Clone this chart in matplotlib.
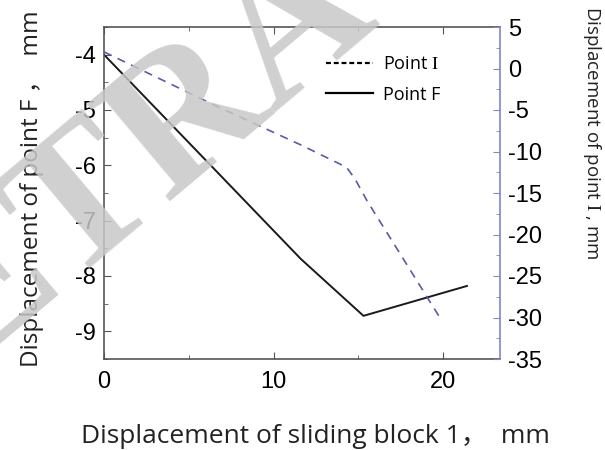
import matplotlib
matplotlib.use('Agg')
import matplotlib.pyplot as plt
from matplotlib.lines import Line2D
from matplotlib.ticker import MultipleLocator

plt.rcParams['axes.unicode_minus'] = False
plt.rcParams['mathtext.fontset'] = 'stix'

# data
slide_F = [0, 6.7, 11.6, 15.3, 21.4]
disp_F = [-4.0, -6.13, -7.69, -8.72, -8.18]

slide_I = [0, 6.7, 11.6, 14.3, 14.8, 15.5, 19.8]
disp_I = [2.0, -4.6, -9.2, -11.9, -13.3, -15.9, -30.0]

xlabel = 'Displacement of sliding block 1，  mm'
ylabel_F = 'Displacement of point F ，  mm'
ylabel_I = r'Displacement of point $\mathrm{I}$ , mm'
legend_labels = [r'Point $\mathrm{I}$', 'Point F']

label_font = ['Open Sans', 'Noto Sans CJK SC', 'DejaVu Sans']
tick_font = 'Liberation Sans'
axis_col = '#555555'
blue = '#5a5aa8'
blue_axis = '#8484c8'

fig = plt.figure(figsize=(6.05, 4.5), dpi=100)
ax1 = fig.add_axes([104/605, 1-359/450, 396/605, 332/450])
ax2 = ax1.twinx()

ax1.plot(slide_F, disp_F, '-', color='#1a1a1a', lw=1.4)
ax2.plot(slide_I, disp_I, color=blue, lw=1.2, dashes=(5, 4))

ax1.set_xlim(0, 23.35)
ax1.set_ylim(-9.5, -3.5)
ax2.set_ylim(-35, 5)

ax1.xaxis.set_major_locator(MultipleLocator(10))
ax1.xaxis.set_minor_locator(MultipleLocator(5))
ax1.yaxis.set_major_locator(MultipleLocator(1))
ax1.yaxis.set_minor_locator(MultipleLocator(0.5))
ax2.yaxis.set_major_locator(MultipleLocator(5))
ax2.yaxis.set_minor_locator(MultipleLocator(2.5))

ax1.tick_params(which='both', direction='in', top=True, right=False, color=axis_col)
ax1.tick_params(which='major', length=5, labelsize=17, pad=6)
ax1.tick_params(which='minor', length=3)
ax1.tick_params(axis='x', which='major', pad=9)
ax2.tick_params(which='both', direction='in', color=blue_axis)
ax2.tick_params(which='major', length=5, labelsize=17, pad=6)
ax2.tick_params(which='minor', length=3)

for ax in (ax1, ax2):
    for lab in ax.get_xticklabels() + ax.get_yticklabels():
        lab.set_family(tick_font)

for s in ('left', 'bottom', 'top'):
    ax1.spines[s].set_color(axis_col)
    ax1.spines[s].set_linewidth(1.2)
ax1.spines['right'].set_visible(False)
for s in ('left', 'bottom', 'top'):
    ax2.spines[s].set_visible(False)
ax2.spines['right'].set_color(blue_axis)
ax2.spines['right'].set_linewidth(1.2)

ax1.set_xlabel(xlabel, family=label_font, fontsize=19, color='#222222', va='baseline')
ax1.xaxis.set_label_coords(0.535, -0.253)
ax1.set_ylabel(ylabel_F, family=label_font, fontsize=17.5, color='#222222', va='center')
ax1.yaxis.set_label_coords(-0.182, 0.512)
ax2.set_ylabel(ylabel_I, family='Open Sans', fontsize=13.5, color='#222222', rotation=270, va='center')
ax2.yaxis.set_label_coords(1.232, 0.682)

handles = [Line2D([], [], color='black', lw=1.6, dashes=(2.2, 1.3)),
           Line2D([], [], color='black', lw=1.6)]
ax1.legend(handles, legend_labels, loc='upper left', frameon=False,
           bbox_to_anchor=(326/605, 1-55/450), bbox_transform=fig.transFigure,
           borderpad=0, borderaxespad=0, handlelength=2.6, handletextpad=0.55,
           labelspacing=0.7, prop={'family': 'Open Sans', 'size': 13})

# watermark on the reference
fig.text(298/605, 1-30/450, 'RETRACTED', rotation=40, fontsize=140,
         family='Liberation Serif', weight='bold', color='#c8c8c8', alpha=0.85,
         ha='center', va='center', zorder=10)

fig.savefig('out.png', dpi=100)
